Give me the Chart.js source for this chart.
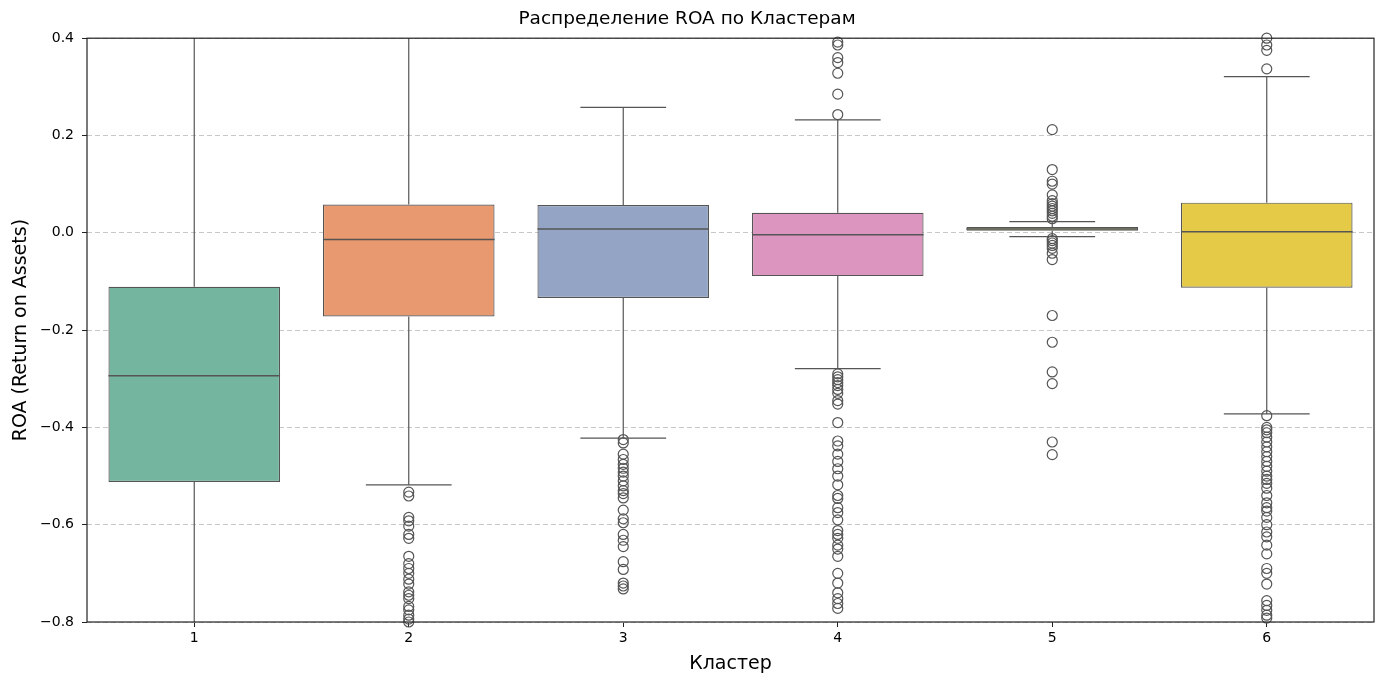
<!DOCTYPE html>
<html>
<head>
<meta charset="utf-8">
<script src="https://cdn.jsdelivr.net/npm/chart.js@4"></script>
<style>
  html, body { margin: 0; padding: 0; background: #fff; }
  #wrap { width: 1386px; height: 687px; }
</style>
</head>
<body>
<div id="wrap"><canvas id="roaChart" width="1386" height="687"></canvas></div>
<script>
// Данные по кластерам
const clusters = ["1", "2", "3", "4", "5", "6"];
const q1 = [-0.512, -0.172, -0.134, -0.089, 0.004, -0.113];
const q3 = [-0.111, 0.058, 0.057, 0.041, 0.012, 0.062];
const medians = [-0.294, -0.014, 0.008, -0.004, 0.008, 0.002];
const whiskerLow = [-1.15, -0.518, -0.422, -0.279, -0.008, -0.372];
const whiskerHigh = [0.75, 0.62, 0.258, 0.232, 0.023, 0.321];
const boxColors = ["#74b5a0", "#e8996f", "#94a4c4", "#db95bf", "#a8c865", "#e5ca48"];

const outliers2 = [-0.533, -0.541, -0.585, -0.592, -0.603, -0.62, -0.628, -0.665, -0.68, -0.69, -0.70, -0.712, -0.722,
  -0.738, -0.745, -0.752, -0.768, -0.775, -0.786, -0.794, -0.80];
const outliers3 = [-0.425, -0.432, -0.455, -0.466, -0.476, -0.484, -0.492, -0.50, -0.51, -0.52, -0.53, -0.536, -0.545,
  -0.57, -0.588, -0.596, -0.62, -0.632, -0.645, -0.676, -0.692, -0.72, -0.726, -0.732];
const outliers4 = [0.243, 0.285, 0.328, 0.35, 0.36, 0.386, 0.392,
  -0.29, -0.296, -0.302, -0.308, -0.314, -0.322, -0.33, -0.345, -0.352, -0.39, -0.428, -0.438, -0.455, -0.47, -0.485,
  -0.50, -0.518, -0.54, -0.546, -0.565, -0.575, -0.59, -0.612, -0.62, -0.628, -0.642, -0.65, -0.665, -0.70, -0.72,
  -0.74, -0.752, -0.762, -0.772];
const outliers5 = [0.212, 0.13, 0.106, 0.10, 0.078, 0.066, 0.06, 0.055, 0.05, 0.045, 0.04, 0.034, 0.029,
  -0.012, -0.016, -0.021, -0.026, -0.032, -0.042, -0.055, -0.17, -0.225, -0.286, -0.31, -0.43, -0.456];
const outliers6 = [0.337, 0.375, 0.386, 0.40,
  -0.376, -0.40, -0.405, -0.411, -0.42, -0.43, -0.44, -0.45, -0.46, -0.47, -0.48, -0.49, -0.50, -0.507, -0.515,
  -0.525, -0.54, -0.555, -0.565, -0.572, -0.585, -0.60, -0.615, -0.625, -0.642, -0.66, -0.69, -0.70, -0.722,
  -0.756, -0.766, -0.776, -0.786, -0.792];
const outliersByCluster = [[], outliers2, outliers3, outliers4, outliers5, outliers6];

const yTicks = [-0.8, -0.6, -0.4, -0.2, 0.0, 0.2, 0.4];
const LINE = "#555555";
const FONT = "'DejaVu Sans', sans-serif";

// Точки-выбросы
const outlierPoints = [];
outliersByCluster.forEach((list, i) => list.forEach(v => outlierPoints.push({ x: clusters[i], y: v })));

// Усы и медианы рисуются по шкалам Chart.js
const boxExtras = {
  id: 'boxExtras',
  afterDatasetDraw(chart, args) {
    if (args.index !== 0) return;
    const { ctx, chartArea: a, scales: { y } } = chart;
    const meta = chart.getDatasetMeta(0);
    ctx.save();
    ctx.beginPath();
    ctx.rect(a.left, a.top, a.right - a.left, a.bottom - a.top);
    ctx.clip();
    ctx.strokeStyle = LINE;
    meta.data.forEach((bar, i) => {
      const x = bar.x, half = bar.width / 2, cap = bar.width / 4;
      const yh = y.getPixelForValue(whiskerHigh[i]), yl = y.getPixelForValue(whiskerLow[i]);
      ctx.lineWidth = 1.2;
      ctx.beginPath();
      ctx.moveTo(x, y.getPixelForValue(q3[i])); ctx.lineTo(x, yh);
      ctx.moveTo(x, y.getPixelForValue(q1[i])); ctx.lineTo(x, yl);
      ctx.moveTo(x - cap, yh); ctx.lineTo(x + cap, yh);
      ctx.moveTo(x - cap, yl); ctx.lineTo(x + cap, yl);
      ctx.stroke();
      ctx.lineWidth = 1.5;
      ctx.beginPath();
      const ym = y.getPixelForValue(medians[i]);
      ctx.moveTo(x - half, ym); ctx.lineTo(x + half, ym);
      ctx.stroke();
    });
    ctx.restore();
  },
  afterDraw(chart) {
    const { ctx, chartArea: a } = chart;
    ctx.save();
    ctx.strokeStyle = "#222";
    ctx.lineWidth = 1.2;
    ctx.strokeRect(a.left, a.top, a.right - a.left, a.bottom - a.top);
    ctx.restore();
  }
};

const ctx = document.getElementById('roaChart').getContext('2d');
new Chart(ctx, {
  type: 'bar',
  data: {
    labels: clusters,
    datasets: [
      {
        type: 'bar',
        data: clusters.map((c, i) => [q1[i], q3[i]]),
        backgroundColor: boxColors,
        borderColor: LINE,
        borderWidth: 1.2,
        borderSkipped: false,
        categoryPercentage: 0.8,
        barPercentage: 1.0,
        order: 1
      },
      {
        type: 'line',
        data: outlierPoints,
        showLine: false,
        pointStyle: 'circle',
        pointRadius: 5,
        pointBorderWidth: 1.2,
        pointBorderColor: LINE,
        pointBackgroundColor: 'rgba(255,255,255,0)',
        clip: false,
        order: 0
      }
    ]
  },
  options: {
    responsive: false,
    animation: false,
    events: [],
    layout: { padding: { left: 0, right: 12, top: 0, bottom: 0 } },
    plugins: {
      legend: { display: false },
      tooltip: { enabled: false },
      title: {
        display: true,
        text: 'Распределение ROA по Кластерам',
        color: '#000',
        font: { family: FONT, size: 18.5, weight: 'normal' },
        padding: { top: 8, bottom: 8 }
      }
    },
    scales: {
      x: {
        type: 'category',
        offset: true,
        grid: { display: true, drawOnChartArea: false, offset: false, tickLength: 5, tickColor: '#222', tickWidth: 1 },
        border: { display: false },
        ticks: { color: '#000', font: { family: FONT, size: 14 }, padding: 3 },
        title: { display: true, text: 'Кластер', color: '#000', font: { family: FONT, size: 19 }, padding: { top: 4, bottom: 12 } },
        afterFit(scale) { scale.height = 65; }
      },
      y: {
        min: -0.8,
        max: 0.4,
        afterBuildTicks(scale) { scale.ticks = yTicks.map(v => ({ value: v })); },
        grid: { color: '#c8c8c8', lineWidth: 1, tickLength: 5, tickColor: '#222', tickWidth: 1 },
        border: { display: false, dash: [5, 3] },
        ticks: {
          color: '#000',
          font: { family: FONT, size: 14 },
          padding: 8,
          callback: v => (v < 0 ? '\u2212' : '') + Math.abs(v).toFixed(1)
        },
        title: {
          display: true,
          text: 'ROA (Return on Assets)',
          color: '#000',
          font: { family: FONT, size: 19 },
          padding: { top: 10, bottom: 0 }
        },
        afterFit(scale) { scale.width = 87; }
      }
    }
  },
  plugins: [boxExtras]
});
</script>
</body>
</html>
